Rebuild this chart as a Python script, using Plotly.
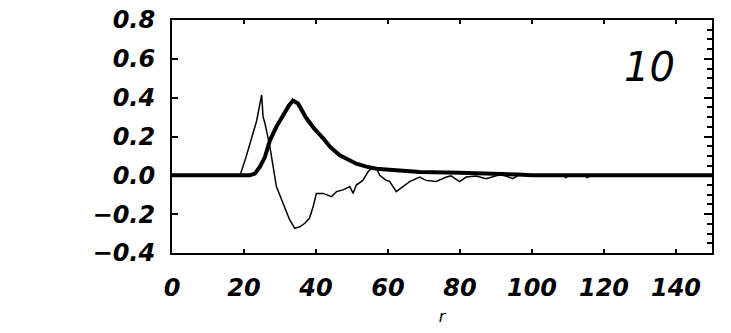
import plotly.graph_objects as go

# radial profiles: smooth (thick) and oscillating (thin) components
r_smooth = [0, 21.6, 23, 24.4, 25.8, 27.2, 29, 30.9, 32.5, 33.6, 35, 37.3, 39.5, 42,
            44, 46.6, 49, 51.2, 54, 56.8, 59.5, 62.3, 68.8, 80, 91, 96, 100, 150]
v_smooth = [0, 0, 0.009, 0.043, 0.094, 0.18, 0.25, 0.31, 0.36, 0.385, 0.37, 0.295, 0.24, 0.19,
            0.145, 0.103, 0.078, 0.06, 0.045, 0.034, 0.03, 0.026, 0.017, 0.013, 0.01, 0.004, 0, 0]

r_osc = [0, 18.9, 20.5, 22, 23.5, 24.9, 25.3, 25.8, 27.2, 29, 30.9, 32.7, 34.1, 35.5, 36.9,
         38.2, 39.2, 40.1, 42, 44.3, 45.7, 47.5, 49.4, 50.3, 51.2, 53, 54.4, 55.8, 56.8, 57.7,
         59.5, 60.4, 62.3, 64.1, 66, 68.8, 70.6, 73.4, 76.2, 77.5, 79.9, 81.7, 84.5, 87.3, 91,
         93, 94.6, 96.5, 100, 108.5, 109.4, 110.3, 114.5, 115.4, 116.3, 150]
v_osc = [0, 0, 0.09, 0.18, 0.28, 0.414, 0.3, 0.27, 0.147, -0.058, -0.144, -0.23, -0.273, -0.265,
         -0.247, -0.22, -0.162, -0.093, -0.093, -0.11, -0.084, -0.075, -0.058, -0.093, -0.05,
         -0.026, 0.017, 0.043, 0.035, 0.0, -0.026, -0.03, -0.084, -0.058, -0.032, -0.009, -0.026,
         -0.032, -0.009, -0.003, -0.032, -0.009, -0.003, -0.017, 0.003, -0.005, -0.017, 0.003, 0,
         0, -0.012, 0, 0, -0.012, 0, 0]

x_ticks = [0, 20, 40, 60, 80, 100, 120, 140]
y_ticks = [-0.4, -0.2, 0.0, 0.2, 0.4, 0.6, 0.8]
panel_label = "10"

tick_font = dict(family="DejaVu Sans", size=24, color="black", style="italic", weight="bold")

fig = go.Figure()
fig.add_trace(go.Scatter(x=r_osc, y=v_osc, mode="lines",
                         line=dict(color="black", width=1.5), showlegend=False))
fig.add_trace(go.Scatter(x=r_smooth, y=v_smooth, mode="lines",
                         line=dict(color="black", width=4), showlegend=False))
# empty trace so the right-hand frame axis is drawn
fig.add_trace(go.Scatter(x=[], y=[], yaxis="y2", showlegend=False))

fig.update_layout(
    width=731, height=333,
    margin=dict(l=172, r=19, t=20, b=80),
    paper_bgcolor="white", plot_bgcolor="white",
    xaxis=dict(range=[0, 150], tickvals=x_ticks, showgrid=False, zeroline=False,
               showline=True, linecolor="black", linewidth=2, mirror="ticks",
               ticks="inside", ticklen=4, tickwidth=1.5, tickcolor="black",
               tickfont=tick_font, ticklabelstandoff=12, automargin=False,
               title=dict(text="r", font=dict(family="DejaVu Sans", size=16,
                                              color="black", style="italic"),
                          standoff=10)),
    yaxis=dict(range=[-0.4, 0.8], tickvals=y_ticks, tickformat=".1f", showgrid=False,
               zeroline=False, showline=True, linecolor="black", linewidth=2,
               ticks="inside", ticklen=6, tickwidth=1.5, tickcolor="black",
               tickfont=tick_font, ticklabelstandoff=10, automargin=False),
    yaxis2=dict(range=[-0.4, 0.8], overlaying="y", side="right", showgrid=False,
                zeroline=False, showline=True, linecolor="black", linewidth=2,
                showticklabels=False, tickvals=y_ticks, ticks="inside", ticklen=8,
                tickwidth=1.5, tickcolor="black", automargin=False,
                minor=dict(ticks="inside", dtick=0.05, tick0=0, ticklen=5,
                           tickwidth=1.5, tickcolor="black")),
    annotations=[dict(x=132.5, y=0.56, xref="x", yref="y", text=panel_label,
                      showarrow=False,
                      font=dict(family="DejaVu Sans", size=40, color="black",
                                style="italic"))],
)

fig.write_html("out.html")
